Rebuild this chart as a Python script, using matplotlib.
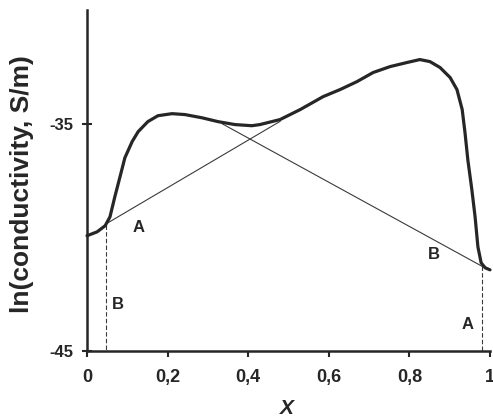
import matplotlib
matplotlib.use("Agg")
import matplotlib.pyplot as plt

# main conductivity curve
x_curve = [0.0, 0.025, 0.045, 0.057, 0.069, 0.082, 0.094, 0.112, 0.127, 0.151,
           0.176, 0.211, 0.243, 0.285, 0.325, 0.367, 0.409, 0.429, 0.479, 0.529,
           0.586, 0.628, 0.670, 0.710, 0.752, 0.794, 0.826, 0.851, 0.876, 0.901,
           0.918, 0.931, 0.938, 0.945, 0.955, 0.963, 0.970, 0.978, 0.988, 1.0]
y_curve = [-39.93, -39.76, -39.49, -39.10, -38.22, -37.33, -36.50, -35.79, -35.35, -34.91,
           -34.65, -34.56, -34.60, -34.74, -34.91, -35.04, -35.09, -35.04, -34.82, -34.38,
           -33.81, -33.50, -33.15, -32.75, -32.49, -32.31, -32.18, -32.27, -32.53, -32.97,
           -33.50, -34.38, -35.40, -36.59, -37.91, -39.10, -40.42, -41.12, -41.34, -41.43]

# straight component lines A and B
x_lineA = [0.05, 0.479]
y_lineA = [-39.38, -34.9]
x_lineB = [0.335, 0.983]
y_lineB = [-35.0, -41.3]

# dashed drop lines
x_dropL = [0.047, 0.047]
y_dropL = [-39.45, -45.0]
x_dropR = [0.98, 0.98]
y_dropR = [-41.25, -45.0]

# letter labels
lab_text = ["A", "B", "B", "A"]
lab_x = [0.129, 0.077, 0.861, 0.945]
lab_y = [-39.58, -42.97, -40.77, -43.85]

xticks = [0, 0.2, 0.4, 0.6, 0.8, 1.0]
xtick_labels = ["0", "0,2", "0,4", "0,6", "0,8", "1"]
yticks = [-45, -35]
ytick_labels = ["-45", "-35"]

plt.rcParams['font.family'] = ['Liberation Sans Narrow', 'Liberation Sans', 'DejaVu Sans']
dark = "#262626"

fig = plt.figure(figsize=(4.93, 4.19), dpi=100)
ax = fig.add_axes([87/493, 68/419, 403/493, 341/419])

ax.plot(x_curve, y_curve, color=dark, lw=2.3, solid_capstyle="round",
        solid_joinstyle="round", clip_on=False, zorder=3)
ax.plot(x_lineA, y_lineA, color="#3a3a3a", lw=0.8)
ax.plot(x_lineB, y_lineB, color="#3a3a3a", lw=0.8)
ax.plot(x_dropL, y_dropL, color="#3a3a3a", lw=0.8, ls=(0, (4, 2)))
ax.plot(x_dropR, y_dropR, color="#3a3a3a", lw=0.8, ls=(0, (4, 2)))

for t, xx, yy in zip(lab_text, lab_x, lab_y):
    ax.text(xx, yy, t, ha="center", va="center", fontsize=12,
            fontweight="bold", family=["Liberation Sans", "DejaVu Sans"], color=dark)

ax.set_xlim(0, 1)
ax.set_ylim(-45, -30)
ax.set_xticks(xticks)
ax.set_xticklabels(xtick_labels, fontsize=13, fontweight="bold")
ax.set_yticks(yticks)
ax.set_yticklabels(ytick_labels, fontsize=12, fontweight="bold")

for s in ["top", "right"]:
    ax.spines[s].set_visible(False)
for s in ["left", "bottom"]:
    ax.spines[s].set_linewidth(1.8)
    ax.spines[s].set_color(dark)
ax.tick_params(axis="x", direction="out", length=4, width=1.5, pad=9, colors=dark)
ax.tick_params(axis="y", direction="inout", length=7, width=1.5, pad=6, colors=dark)

ax.set_xlabel("X", fontsize=15, fontweight="bold", fontstyle="italic",
              family=["Liberation Sans", "DejaVu Sans"], va="center", color=dark)
ax.xaxis.set_label_coords(0.496, -0.168)
ax.set_ylabel("ln(conductivity, S/m)", fontsize=19, fontweight="bold",
              family=["Liberation Sans", "DejaVu Sans"], va="center", color=dark)
ax.yaxis.set_label_coords(-0.161, 0.49)

fig.savefig("out.png", dpi=100)
